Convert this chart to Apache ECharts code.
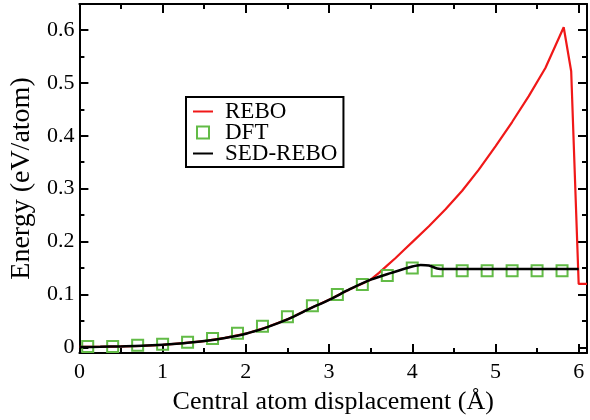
<!DOCTYPE html>
<html>
<head>
<meta charset="utf-8">
<script src="https://cdn.jsdelivr.net/npm/echarts@6/dist/echarts.min.js"></script>
<style>html,body{margin:0;padding:0;background:#fff}#c{width:590px;height:420px}</style>
</head>
<body>
<div id="c"></div>
<script>
// ---- data ----
var reboX = [0, 0.25, 0.5, 0.75, 1.0, 1.25, 1.5, 1.75, 2.0, 2.25, 2.5, 2.75, 3.0, 3.25, 3.5, 3.6, 3.7, 3.8, 3.9, 4.0, 4.2, 4.4, 4.6, 4.8, 5.0, 5.2, 5.4, 5.6, 5.82, 5.91, 6.0, 6.1];
var reboY = [0.001, 0.0012, 0.002, 0.003, 0.005, 0.008, 0.012, 0.018, 0.026, 0.038, 0.053, 0.072, 0.09, 0.11, 0.128, 0.141, 0.155, 0.169, 0.184, 0.199, 0.229, 0.261, 0.296, 0.336, 0.38, 0.426, 0.475, 0.528, 0.605, 0.522, 0.12, 0.12];

var dftX = [0.1, 0.4, 0.7, 1.0, 1.3, 1.6, 1.9, 2.2, 2.5, 2.8, 3.1, 3.4, 3.7, 4.0, 4.3, 4.6, 4.9, 5.2, 5.5, 5.8];
var dftY = [0.002, 0.002, 0.004, 0.006, 0.01, 0.017, 0.027, 0.04, 0.058, 0.079, 0.1, 0.119, 0.136, 0.15, 0.145, 0.145, 0.145, 0.145, 0.145, 0.145];

var sedX = [0, 0.25, 0.5, 0.75, 1.0, 1.25, 1.5, 1.75, 2.0, 2.25, 2.5, 2.75, 3.0, 3.25, 3.5, 3.75, 4.0, 4.1, 4.2, 4.3, 4.4, 5.0, 6.0];
var sedY = [0.001, 0.0012, 0.002, 0.003, 0.005, 0.008, 0.012, 0.018, 0.026, 0.038, 0.053, 0.072, 0.09, 0.11, 0.128, 0.141, 0.153, 0.156, 0.155, 0.149, 0.148, 0.148, 0.148];

var xMajor = [0, 1, 2, 3, 4, 5, 6];
var xMinor = [0.5, 1.5, 2.5, 3.5, 4.5, 5.5];
var yMajor = [0, 0.1, 0.2, 0.3, 0.4, 0.5, 0.6];
var yMinor = [0.05, 0.15, 0.25, 0.35, 0.45, 0.55];

var names = ['REBO', 'DFT', 'SED-REBO'];
var xTitle = 'Central atom displacement (Å)';
var yTitle = 'Energy (eV/atom)';

function pairs(xs, ys) { return xs.map(function (x, i) { return [x, ys[i]]; }); }

var FONT = 'Liberation Serif';
var X_MIN = 0, X_MAX = 6.1, Y_MIN = -0.0105, Y_MAX = 0.649;
var RED = '#f01818', GREEN = '#62bb46';

function mkAxis(isX, pos, ticks, len, main) {
  return {
    type: 'value', position: pos,
    min: isX ? X_MIN : Y_MIN, max: isX ? X_MAX : Y_MAX,
    axisLine: { show: !!main, onZero: false, lineStyle: { color: '#000', width: 2 } },
    axisTick: { show: true, inside: true, length: len, customValues: ticks, lineStyle: { color: '#000', width: 2 } },
    axisLabel: { show: false },
    splitLine: { show: false }
  };
}

var xA0 = mkAxis(true, 'bottom', xMajor, 9, true);
xA0.axisLabel = { show: true, customValues: xMajor, fontSize: 22, color: '#000', fontFamily: FONT, margin: 8 };
xA0.name = xTitle; xA0.nameLocation = 'middle'; xA0.nameGap = 36;
xA0.nameTextStyle = { fontSize: 26, color: '#000', fontFamily: FONT };
var yA0 = mkAxis(false, 'left', yMajor, 9, true);
yA0.axisLabel = { show: true, customValues: yMajor, fontSize: 22, color: '#000', fontFamily: FONT, margin: 5 };
yA0.name = yTitle; yA0.nameLocation = 'middle'; yA0.nameGap = 38;
yA0.nameTextStyle = { fontSize: 28, color: '#000', fontFamily: FONT };

var hiddenDot = { color: 'rgba(0,0,0,0)', borderWidth: 0, opacity: 0 };

var option = {
  animation: false,
  backgroundColor: '#fff',
  textStyle: { fontFamily: FONT },
  grid: { left: 77, right: 3, top: 4, bottom: 59, containLabel: false },
  xAxis: [
    xA0,
    mkAxis(true, 'bottom', xMinor, 5, false),
    mkAxis(true, 'top', xMajor, 9, true),
    mkAxis(true, 'top', xMinor, 5, false)
  ],
  yAxis: [
    yA0,
    mkAxis(false, 'left', yMinor, 5, false),
    mkAxis(false, 'right', yMajor, 9, true),
    mkAxis(false, 'right', yMinor, 5, false)
  ],
  legend: {
    data: [
      { name: names[0], itemStyle: hiddenDot },
      { name: names[1], icon: 'path://M0,0H10V10H0Z', itemStyle: { color: 'rgba(255,255,255,0)', borderColor: GREEN, borderWidth: 2 } },
      { name: names[2], itemStyle: hiddenDot }
    ],
    orient: 'vertical',
    left: 186, top: 97,
    padding: [3, 6, 2, 6],
    itemGap: -2,
    itemWidth: 20, itemHeight: 12,
    symbolKeepAspect: true,
    backgroundColor: '#fff',
    borderColor: '#000', borderWidth: 2, borderRadius: 0,
    textStyle: { fontSize: 23, lineHeight: 20, color: '#000', fontFamily: FONT, padding: [0, 0, 0, 7] }
  },
  series: [
    {
      name: names[0], type: 'line', xAxisIndex: 0, yAxisIndex: 0,
      data: pairs(reboX, reboY), symbol: 'none', showSymbol: false,
      lineStyle: { color: RED, width: 2.2 }, itemStyle: { color: RED }, z: 2
    },
    {
      name: names[1], type: 'scatter', xAxisIndex: 0, yAxisIndex: 0,
      data: pairs(dftX, dftY), symbol: 'rect', symbolSize: 11,
      itemStyle: { color: 'rgba(255,255,255,0)', borderColor: GREEN, borderWidth: 2, opacity: 1 }, z: 3
    },
    {
      name: names[2], type: 'line', xAxisIndex: 0, yAxisIndex: 0,
      data: pairs(sedX, sedY), symbol: 'none', showSymbol: false, smooth: 0.3,
      lineStyle: { color: '#000', width: 2.5 }, itemStyle: { color: '#000' }, z: 4
    }
  ]
};
var chart = echarts.init(document.getElementById('c'), null, { renderer: 'canvas' });
chart.setOption(option);
</script>
</body>
</html>
